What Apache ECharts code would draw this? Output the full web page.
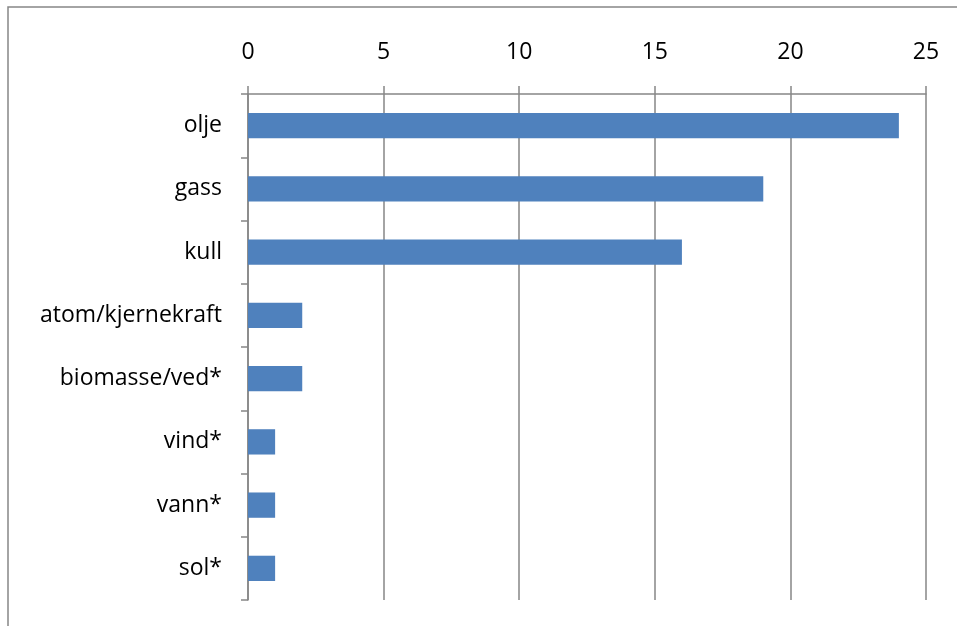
<!DOCTYPE html>
<html>
<head>
<meta charset="utf-8">
<style>
  html, body { margin: 0; padding: 0; background: #fff; }
  #chart { width: 957px; height: 626px; }
</style>
<script src="https://cdn.jsdelivr.net/npm/echarts@6/dist/echarts.min.js"></script>
</head>
<body>
<div id="chart"></div>
<script>
// Energy sources (top to bottom) and their values
const categories = ['olje', 'gass', 'kull', 'atom/kjernekraft', 'biomasse/ved*', 'vind*', 'vann*', 'sol*'];
const values = [24, 19, 16, 2, 2, 1, 1, 1];
const axisMin = 0;
const axisMax = 25;
const axisStep = 5;

const chart = echarts.init(document.getElementById('chart'));
const gray = '#868686';
const font = '"Open Sans", Lato, sans-serif';

chart.setOption({
  animation: false,
  backgroundColor: '#fff',
  graphic: [{
    type: 'rect',
    shape: { x: 8, y: 7, width: 1200, height: 900 },
    style: { fill: 'none', stroke: gray, lineWidth: 1.5 },
    silent: true
  }],
  grid: { left: 248, right: 31, top: 94, bottom: 26, containLabel: false },
  xAxis: {
    type: 'value',
    position: 'top',
    min: axisMin,
    max: axisMax,
    interval: axisStep,
    axisLine: { show: true, lineStyle: { color: gray, width: 1.5 } },
    axisTick: { show: true, inside: false, length: 8, lineStyle: { color: gray, width: 1.5 } },
    splitLine: { show: true, lineStyle: { color: gray, width: 1.5 } },
    axisLabel: { color: '#000', fontSize: 23, fontFamily: font, margin: 30 }
  },
  yAxis: {
    type: 'category',
    data: categories,
    inverse: true,
    axisLine: { show: true, lineStyle: { color: gray, width: 1.5 } },
    axisTick: { show: true, inside: false, length: 7, alignWithLabel: false, lineStyle: { color: gray, width: 1.5 } },
    axisLabel: { color: '#000', fontSize: 23, fontFamily: font, margin: 26 }
  },
  series: [{
    type: 'bar',
    data: values,
    barCategoryGap: '60%',
    itemStyle: { color: '#4F81BD' }
  }]
});
</script>
</body>
</html>
